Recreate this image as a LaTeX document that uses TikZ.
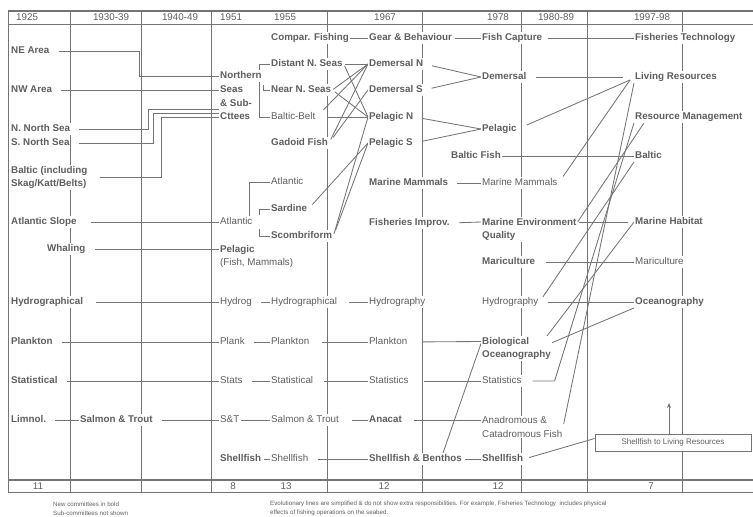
\documentclass[tikz,border=0pt]{standalone}
\usepackage{fontspec}
\setmainfont{Liberation Sans}
\usetikzlibrary{positioning,arrows.meta,backgrounds}
\definecolor{inkgray}{HTML}{5E5E5E}
\definecolor{rulegray}{HTML}{747474}
\newcommand{\lblfont}{\fontsize{9.8}{13.2}\selectfont}
\newcommand{\notefont}{\fontsize{6.2}{9}\selectfont}
\newcommand{\boxfont}{\fontsize{8}{9.6}\selectfont}

\begin{document}
\begin{tikzpicture}[x=1pt, y=-1pt, >={Stealth[length=5pt,width=4pt]},
  lbl/.style={anchor=west, inner sep=1pt, fill=white, text=inkgray, font=\lblfont, text height=7.5pt, text depth=2pt},
  new/.style={lbl, font=\lblfont\bfseries},
  lbltwo/.style={anchor=west, inner sep=1pt, fill=white, text=inkgray, font=\lblfont, align=left},
  newtwo/.style={lbltwo, font=\lblfont\bfseries},
  head/.style={inner sep=0pt, text=inkgray, font=\lblfont},
  note/.style={anchor=west, inner sep=0pt, text=inkgray, font=\notefont, align=left},
  link/.style={draw=rulegray, line width=0.85pt, shorten <=8pt},
  rule/.style={draw=rulegray, line width=0.85pt},
  heavy/.style={draw=rulegray, line width=1.7pt}]
  \useasboundingbox (0,0) rectangle (753,517);

  % header and count row
  \node[head, anchor=west] (y25) at (16,17.5) {1925};
  \node[head] (y30) at (111,17.5) {1930-39};
  \node[head] (y40) at (180,17.5) {1940-49};
  \node[head, anchor=west] (y51) at (220,17.5) {1951};
  \node[head, anchor=west] (y55) at (274,17.5) {1955};
  \node[head] (y67) at (385,17.5) {1967};
  \node[head] (y78) at (498,17.5) {1978};
  \node[head] (y80) at (556,17.5) {1980-89};
  \node[head] (y97) at (652,17.5) {1997-98};
  \node[head] (c25) at (38,486) {11};
  \node[head] (c51) at (233,486) {8};
  \node[head] (c55) at (286,486) {13};
  \node[head] (c67) at (384,486) {12};
  \node[head] (c78) at (498,486) {12};
  \node[head] (c97) at (651,486) {7};

  % 1925
  \node[new] (ne) at (10,51) {NE Area};
  \node[new] (nw) at (10,90) {NW Area};
  \node[new] (nns) at (10,129) {N. North Sea};
  \node[new] (sns) at (10,143) {S. North Sea};
  \node[newtwo] (bal25) at (10,177.5) {Baltic (including\\Skag/Katt/Belts)};
  \node[new] (atlslope) at (10,222) {Atlantic Slope};
  \node[new] (whal) at (46,249) {Whaling};
  \node[new] (hyd25) at (10,302) {Hydrographical};
  \node[new] (plk25) at (10,342) {Plankton};
  \node[new] (sta25) at (10,381) {Statistical};
  \node[new] (lim) at (10,420) {Limnol.};
  % 1930-39
  \node[new] (sat30) at (79,420) {Salmon \& Trout};

  % 1951
  \node[new] (north) at (219,76) {Northern};
  \node[new] (seas) at (219,90) {Seas};
  \node[new] (sub) at (219,104) {\& Sub-};
  \node[new] (ctt) at (219,117) {Cttees};
  \node[lbl] (atl51) at (219,222) {Atlantic};
  \node[newtwo] (pel51) at (219,256.5) {Pelagic\\{\mdseries (Fish, Mammals)}};
  \node[lbl] (hyg51) at (219,302) {Hydrog};
  \node[lbl] (plk51) at (219,342) {Plank};
  \node[lbl] (sta51) at (219,381) {Stats};
  \node[lbl] (st51) at (219,420) {S\&T};
  \node[new] (shf51) at (219,459) {Shellfish};

  % 1955
  \node[new] (comp) at (270,38) {Compar. Fishing};
  \node[new] (dist) at (270,64) {Distant N. Seas};
  \node[new] (near) at (270,90) {Near N. Seas};
  \node[lbl] (bbelt) at (270,117) {Baltic-Belt};
  \node[new] (gad) at (270,143) {Gadoid Fish};
  \node[lbl] (atl55) at (270,182) {Atlantic};
  \node[new] (sard) at (270,209) {Sardine};
  \node[new] (scomb) at (270,236) {Scombriform};
  \node[lbl] (hyd55) at (270,302) {Hydrographical};
  \node[lbl] (plk55) at (270,342) {Plankton};
  \node[lbl] (sta55) at (270,381) {Statistical};
  \node[lbl] (sat55) at (270,420) {Salmon \& Trout};
  \node[lbl] (shf55) at (270,459) {Shellfish};

  % 1967
  \node[new] (gear) at (368,38) {Gear \& Behaviour};
  \node[new] (demn) at (368,64) {Demersal N};
  \node[new] (dems) at (368,90) {Demersal S};
  \node[new] (peln) at (368,117) {Pelagic N};
  \node[new] (pels) at (368,143) {Pelagic S};
  \node[new] (mam67) at (368,183) {Marine Mammals};
  \node[new] (fimp) at (368,223) {Fisheries Improv.};
  \node[lbl] (hyd67) at (368,302) {Hydrography};
  \node[lbl] (plk67) at (368,342) {Plankton};
  \node[lbl] (sta67) at (368,381) {Statistics};
  \node[new] (anacat) at (368,420) {Anacat};
  \node[new] (shb) at (368,459) {Shellfish \& Benthos};

  % 1978
  \node[new] (fcap) at (481,38) {Fish Capture};
  \node[new] (dem78) at (481,77) {Demersal};
  \node[new] (pel78) at (481,129) {Pelagic};
  \node[new] (balf) at (450,156) {Baltic Fish};
  \node[lbl] (mam78) at (481,183) {Marine Mammals};
  \node[newtwo] (meq) at (481,229.5) {Marine Environment\\Quality};
  \node[new] (mar78) at (481,262) {Mariculture};
  \node[lbl] (hyd78) at (481,302) {Hydrography};
  \node[newtwo] (bio) at (481,348.5) {Biological\\Oceanography};
  \node[lbl] (sta78) at (481,381) {Statistics};
  \node[lbltwo] (anad) at (481,427) {Anadromous \&\\Catadromous Fish};
  \node[new] (shf78) at (481,459) {Shellfish};

  % 1997-98
  \node[new] (ftech) at (634,38) {Fisheries Technology};
  \node[new] (lr) at (634,77) {Living Resources};
  \node[new] (rm) at (634,117) {Resource Management};
  \node[new] (bal97) at (634,156) {Baltic};
  \node[new] (mh) at (634,222) {Marine Habitat};
  \node[lbl] (mar97) at (634,262) {Mariculture};
  \node[new] (ocean) at (634,302) {Oceanography};
  \node[draw=rulegray, line width=0.85pt, fill=white, minimum width=156pt, minimum height=17pt, inner sep=0pt, text=inkgray, font=\boxfont] (shlr) at (673,442.5) {Shellfish to Living Resources};
  \coordinate (tip) at (669,403);

  % footnotes
  \node[note] (key) at (53,508.5) {New committees in bold\\Sub-committees not shown};
  \node[note] (caveat) at (270,508) {Evolutionary lines are simplified \& do not show extra responsibilities. For example, Fisheries Technology\ \ includes physical\\effects of fishing operations on the seabed.};

  % elbow columns and entry points
  \coordinate (kne) at (139,0);
  \coordinate (knn) at (148,0);
  \coordinate (ksn) at (153,0);
  \coordinate (kba) at (161,0);
  \coordinate (subin) at ([yshift=-5pt]sub.west);
  \coordinate (cttin) at ([yshift=4pt]ctt.west);
  \coordinate (pel51a) at ([yshift=7.5pt]pel51.west);
  \coordinate (meqa) at ([yshift=7.5pt]meq.west);
  \coordinate (meqe) at ([yshift=7.5pt]meq.east);
  \coordinate (bioa) at ([yshift=7pt]bio.west);
  \coordinate (anada) at ([yshift=7pt]anad.west);
  \coordinate (lrin) at ([xshift=-4pt,yshift=-3pt]lr.west);

  \begin{scope}[on background layer]
    % table frame
    \draw[heavy] (8,11) -- (753,11);
    \draw[rule] (8,24) -- (753,24);
    \draw[heavy] (8,480) -- (753,480);
    \draw[rule] (8,492) -- (753,492);
    \foreach \x in {8,70,141,211,327,422,521,587,682}
      \draw[rule] (\x,11) -- (\x,492);

    % 1925 -> 1951
    \draw[link] (ne.east) -| (kne |- north.west) -- (north.west);
    \draw[link] (nw) -- (seas);
    \draw[link] (nns.east) -| (knn |- subin) -- (subin);
    \draw[link] (sns.east) -| (ksn |- cttin) -- (cttin);
    \draw[link, shorten <=11pt] (bal25.east) -| (kba |- ctt.west) -- (ctt.west);
    \draw[link, shorten <=13pt] (atlslope) -- (atl51);
    \draw[link] (whal.east) -- (pel51a);
    \draw[link, shorten <=12pt] (hyd25) -- (hyg51);
    \draw[link] (plk25) -- (plk51);
    \draw[link] (sta25) -- (sta51);
    \draw[link] (lim) -- (sat30);
    \draw[link] (sat30) -- (st51);

    % 1951 -> 1955
    \draw[link, shorten <=0pt] (dist.west) -- ++(-11,0) |- (bbelt.west);
    \draw[link, shorten <=0pt] (near.west) -- ++(-7,0) -- ++(0,-5);
    \draw[link, shorten <=0pt] (atl55.west) -| ([xshift=-4pt]atl51.north east);
    \draw[link, shorten <=0pt] (sard.west) -- ++(-11,0) -- ++(0,6);
    \draw[link, shorten <=0pt] (scomb.west) -- ++(-11,0) -- ++(0,-7);
    \draw[link] (hyg51) -- (hyd55);
    \draw[link] (plk51) -- (plk55);
    \draw[link] (sta51) -- (sta55);
    \draw[link, shorten <=1pt] (st51) -- (sat55);
    \draw[link, shorten <=2pt] (shf51) -- (shf55);

    % 1955 -> 1967
    \draw[link, shorten <=0pt] (comp) -- (gear);
    \draw[link, shorten <=1pt] (dist) -- (demn);
    \draw[link, shorten <=2pt] (dist.east) -- (peln.west);
    \draw[link, shorten <=1pt] (near.east) -- (demn.west);
    \draw[link, shorten <=3pt] (near.east) -- (peln.west);
    \draw[link, shorten <=10pt] (bbelt) -- (peln);
    \draw[link, shorten <=10pt] (bbelt.east) -- (demn.west);
    \draw[link, shorten <=4pt] (gad.east) -- (demn.west);
    \draw[link, shorten <=7pt] (gad.east) -- (dems.west);
    \draw[link, shorten <=6pt] (sard.east) -- (pels.west);
    \draw[link, shorten <=2pt] (scomb.east) -- (peln.west);
    \draw[link, shorten <=6pt] (scomb.east) -- (pels.west);
    \draw[link, shorten <=11pt] (hyd55) -- (hyd67);
    \draw[link, shorten <=11pt] (plk55) -- (plk67);
    \draw[link, shorten <=10pt] (sta55) -- (sta67);
    \draw[link, shorten <=12pt] (sat55) -- (anacat);
    \draw[link, shorten <=9pt] (shf55) -- (shb);

    % 1967 -> 1978
    \draw[link, shorten <=2pt] (gear) -- (fcap);
    \draw[link] (demn.east) -- (dem78.west);
    \draw[link] (dems.east) -- (dem78.west);
    \draw[link] (peln.east) -- (pel78.west);
    \draw[link] (pels.east) -- (pel78.west);
    \draw[link] (mam67) -- (mam78);
    \draw[link] (fimp.east) -- (meqa);
    \draw[link, shorten <=14pt] (plk67.east) -- (bioa);
    \draw[link, shorten <=14pt] (sta67) -- (sta78);
    \draw[link, shorten <=11pt] (anacat.east) -- (anada);
    \draw[link, shorten <=2pt] (shb) -- (shf78);
    \draw[link, shorten <=0pt] ([xshift=-20pt]shb.north east) -- ([yshift=5pt]bio.west);

    % 1978 -> 1997-98
    \draw[link, shorten <=5pt] (fcap) -- (ftech);
    \draw[link, shorten >=11pt] (dem78) -- (lr);
    \draw[link, shorten <=10pt] (pel78.east) -- (lrin);
    \draw[link, shorten <=0pt] (balf) -- (bal97);
    \draw[link] (mam78.east) -- (lrin);
    \draw[link, shorten <=1pt, shorten >=6pt] (meqe) -- (mh.west);
    \draw[link, shorten <=0pt] (meqe) -- ([xshift=10pt]rm.south west);
    \draw[link, shorten <=10pt] (mar78) -- (mar97);
    \draw[link] (hyd78) -- (ocean);
    \draw[link, shorten <=6pt] (hyd78.east) -- (bal97.south west);
    \draw[link, shorten <=0pt] ([xshift=-10pt,yshift=6pt]bio.east) -- (mh.west);
    \draw[link, shorten <=0pt] ([xshift=-9pt,yshift=2pt]bio.east) -- (ocean.south west);
    \draw[link, shorten <=10pt] (sta78.east) -- ++(32,0) -- (rm.south west);
    \draw[link, shorten <=1pt] ([yshift=2pt]anad.east) -- (lr.south west);
    \draw[link, shorten <=5pt] (shf78.east) -- ([yshift=4pt]shlr.west);
  \end{scope}
  \draw[rule, ->] ([xshift=-4pt]shlr.north) -- (tip);
\end{tikzpicture}
\end{document}
